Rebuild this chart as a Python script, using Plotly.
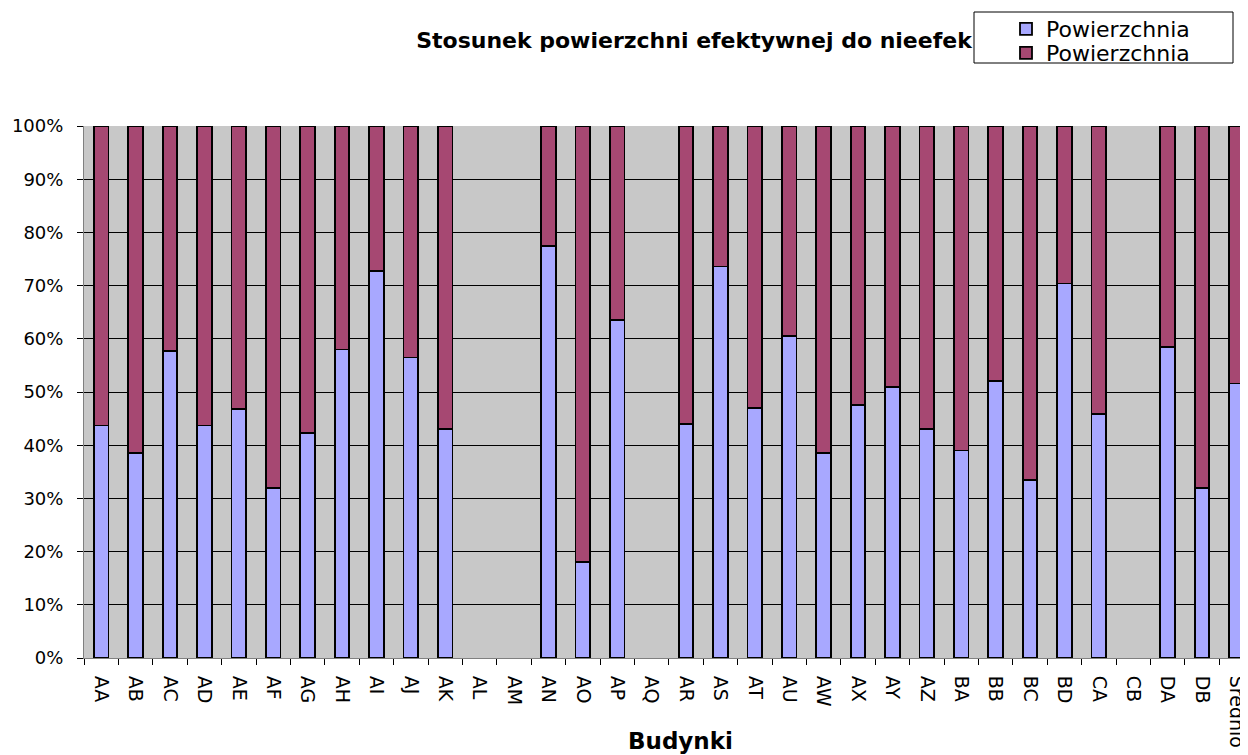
import plotly.graph_objects as go

categories = ["AA", "AB", "AC", "AD", "AE", "AF", "AG", "AH", "AI", "AJ", "AK", "AL", "AM",
              "AN", "AO", "AP", "AQ", "AR", "AS", "AT", "AU", "AW", "AX", "AY", "AZ", "BA",
              "BB", "BC", "BD", "CA", "CB", "DA", "DB", "Srednio"]
effective = [43.7, 38.5, 57.7, 43.7, 46.8, 32.0, 42.3, 58.0, 72.7, 56.5, 43.0, None, None,
             77.5, 18.0, 63.5, None, 44.0, 73.6, 47.0, 60.5, 38.6, 47.5, 51.0, 43.0, 39.0,
             52.0, 33.5, 70.4, 45.8, None, 58.5, 32.0, 51.6]
ineffective = [None if v is None else round(100 - v, 1) for v in effective]
series_names = ["Powierzchnia", "Powierzchnia"]
title_text = "Stosunek powierzchni efektywnej do nieefek"
x_title = "Budynki"

eff_frac = [None if v is None else v / 100 for v in effective]
ineff_frac = [None if v is None else v / 100 for v in ineffective]

FONT = "DejaVu Sans, Liberation Sans, Arial, sans-serif"

fig = go.Figure()
fig.add_trace(go.Bar(x=categories, y=eff_frac, name=series_names[0], legend="legend",
                     marker=dict(color="#A8A8FF", line=dict(color="black", width=1.8))))
fig.add_trace(go.Bar(x=categories, y=ineff_frac, name=series_names[1], legend="legend2",
                     marker=dict(color="#A64872", line=dict(color="black", width=1.8))))

# page body has an 8px offset; work in screen coordinates and convert
OFF = 8
W, H = 1248 - OFF, 755 - OFF
AX_L, AX_T, AX_B = 84, 126, 658          # screen px of plot area
L = AX_L - OFF
T = AX_T - OFF
B = H - (AX_B - OFF)
R = 0
ph = H - T - B
pw = W - L - R
cat_w = 34.4
x_max = -0.5 + pw / cat_w

def cx(x):
    return (x - OFF) / W

def cy(y):
    return 1 - (y - OFF) / H

def px_x(x):
    return (x - OFF - L) / pw

def px_y(y):
    return (H - B - (y - OFF)) / ph

leg_common = dict(xref="container", yref="container", xanchor="left", yanchor="middle",
                  bgcolor="rgba(0,0,0,0)", borderwidth=0, font=dict(size=22, family=FONT),
                  itemwidth=30)

fig.update_layout(
    width=W, height=H,
    barmode="stack", bargap=0.58,
    plot_bgcolor="#C8C8C8", paper_bgcolor="white",
    margin=dict(l=L, r=R, t=T, b=B, autoexpand=False),
    font=dict(family=FONT, color="black"),
    title=dict(text="<b>" + title_text + "</b>", x=cx(694), xanchor="center",
               xref="container", y=cy(40), yanchor="middle", yref="container",
               font=dict(size=22, color="black", family=FONT)),
    showlegend=True,
    legend=dict(x=cx(1006), y=cy(29), **leg_common),
    legend2=dict(x=cx(1006), y=cy(53), **leg_common),
    shapes=[dict(type="rect", xref="paper", yref="paper",
                 x0=px_x(974), x1=px_x(1233), y0=px_y(63), y1=px_y(12),
                 line=dict(color="black", width=1), fillcolor="white", layer="above")],
    annotations=[dict(text="<b>" + x_title + "</b>", xref="paper", yref="paper",
                      x=px_x(680), y=px_y(741), xanchor="center", yanchor="middle",
                      showarrow=False, font=dict(size=23, color="black", family=FONT))],
)
fig.update_xaxes(type="category", range=[-0.5, x_max], tickangle=90, tickson="boundaries",
                 ticks="outside", ticklen=6, tickcolor="black", showline=True,
                 linecolor="#808080", tickfont=dict(size=19), showgrid=False,
                 ticklabelstandoff=13)
fig.update_yaxes(range=[0, 1], dtick=0.1, tickformat=".0%", ticks="outside", ticklen=6,
                 tickcolor="black", showline=True, linecolor="#808080",
                 showgrid=True, gridcolor="black", gridwidth=1, tickfont=dict(size=18),
                 zeroline=False, ticklabelstandoff=10)

fig.write_html("out.html")
